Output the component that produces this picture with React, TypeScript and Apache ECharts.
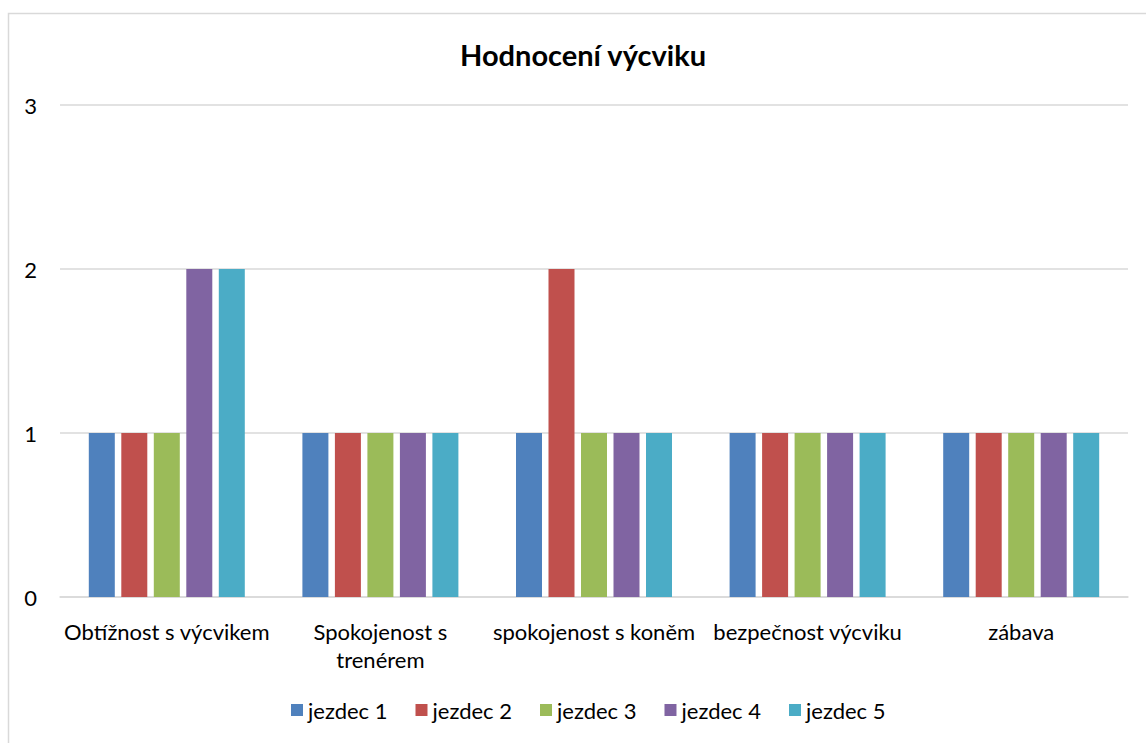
import React, { useEffect, useRef } from "react";
import * as echarts from "echarts";

const categories = [
  "Obtížnost s výcvikem",
  "Spokojenost s trenérem",
  "spokojenost s koněm",
  "bezpečnost výcviku",
  "zábava",
];
const wrappedLabels: Record<string, string> = {
  "Spokojenost s trenérem": "Spokojenost s\ntrenérem",
};
const seriesNames = ["jezdec 1", "jezdec 2", "jezdec 3", "jezdec 4", "jezdec 5"];
const jezdec1 = [1, 1, 1, 1, 1];
const jezdec2 = [1, 1, 2, 1, 1];
const jezdec3 = [1, 1, 1, 1, 1];
const jezdec4 = [2, 1, 1, 1, 1];
const jezdec5 = [2, 1, 1, 1, 1];
const seriesValues = [jezdec1, jezdec2, jezdec3, jezdec4, jezdec5];
const colors = ["#4F81BD", "#C0504D", "#9BBB59", "#8064A2", "#4BACC6"];
const title = "Hodnocení výcviku";

const FONT = "Lato, 'Open Sans', sans-serif";

export default function App() {
  const ref = useRef<HTMLDivElement>(null);
  useEffect(() => {
    if (!ref.current) return;
    const chart = echarts.init(ref.current, null, { renderer: "svg" });
    chart.setOption({
      animation: false,
      backgroundColor: "#ffffff",
      color: colors,
      title: {
        text: title,
        left: 578,
        textAlign: "center",
        top: 35,
        textStyle: { fontFamily: FONT, fontSize: 29, fontWeight: "bold", color: "#000" },
      },
      graphic: [
        {
          type: "rect",
          shape: { x: 8.5, y: 13.5, width: 1200, height: 800 },
          style: { fill: "none", stroke: "#D9D9D9", lineWidth: 1.5 },
          silent: true,
        },
      ],
      legend: {
        bottom: 17,
        left: 286,
        itemWidth: 12,
        itemHeight: 12,
        itemGap: 28,
        icon: "rect",
        textStyle: { fontFamily: FONT, fontSize: 22, color: "#000" },
        data: seriesNames,
      },
      grid: { left: 60, right: 18, top: 105, bottom: 146, containLabel: false },
      xAxis: {
        type: "category",
        data: categories,
        axisLine: { show: true, lineStyle: { color: "#D9D9D9", width: 1.5 } },
        axisTick: { show: false },
        axisLabel: {
          interval: 0,
          fontFamily: FONT,
          fontSize: 22,
          color: "#000",
          margin: 20,
          lineHeight: 28,
          formatter: (v: string) => wrappedLabels[v] ?? v,
        },
      },
      yAxis: {
        type: "value",
        min: 0,
        max: 3,
        interval: 1,
        axisLine: { show: false },
        axisTick: { show: false },
        splitLine: { lineStyle: { color: "#D9D9D9", width: 1.5 } },
        axisLabel: { fontFamily: FONT, fontSize: 22, color: "#000", margin: 23 },
      },
      series: seriesNames.map((name, i) => ({
        name,
        type: "bar",
        data: seriesValues[i],
        barWidth: 26,
        barGap: "25%",
        itemStyle: { color: colors[i] },
      })),
    });
    return () => chart.dispose();
  }, []);
  return (
    <div
      ref={ref}
      style={{ position: "absolute", left: 0, top: 0, width: 1146, height: 743 }}
    />
  );
}
